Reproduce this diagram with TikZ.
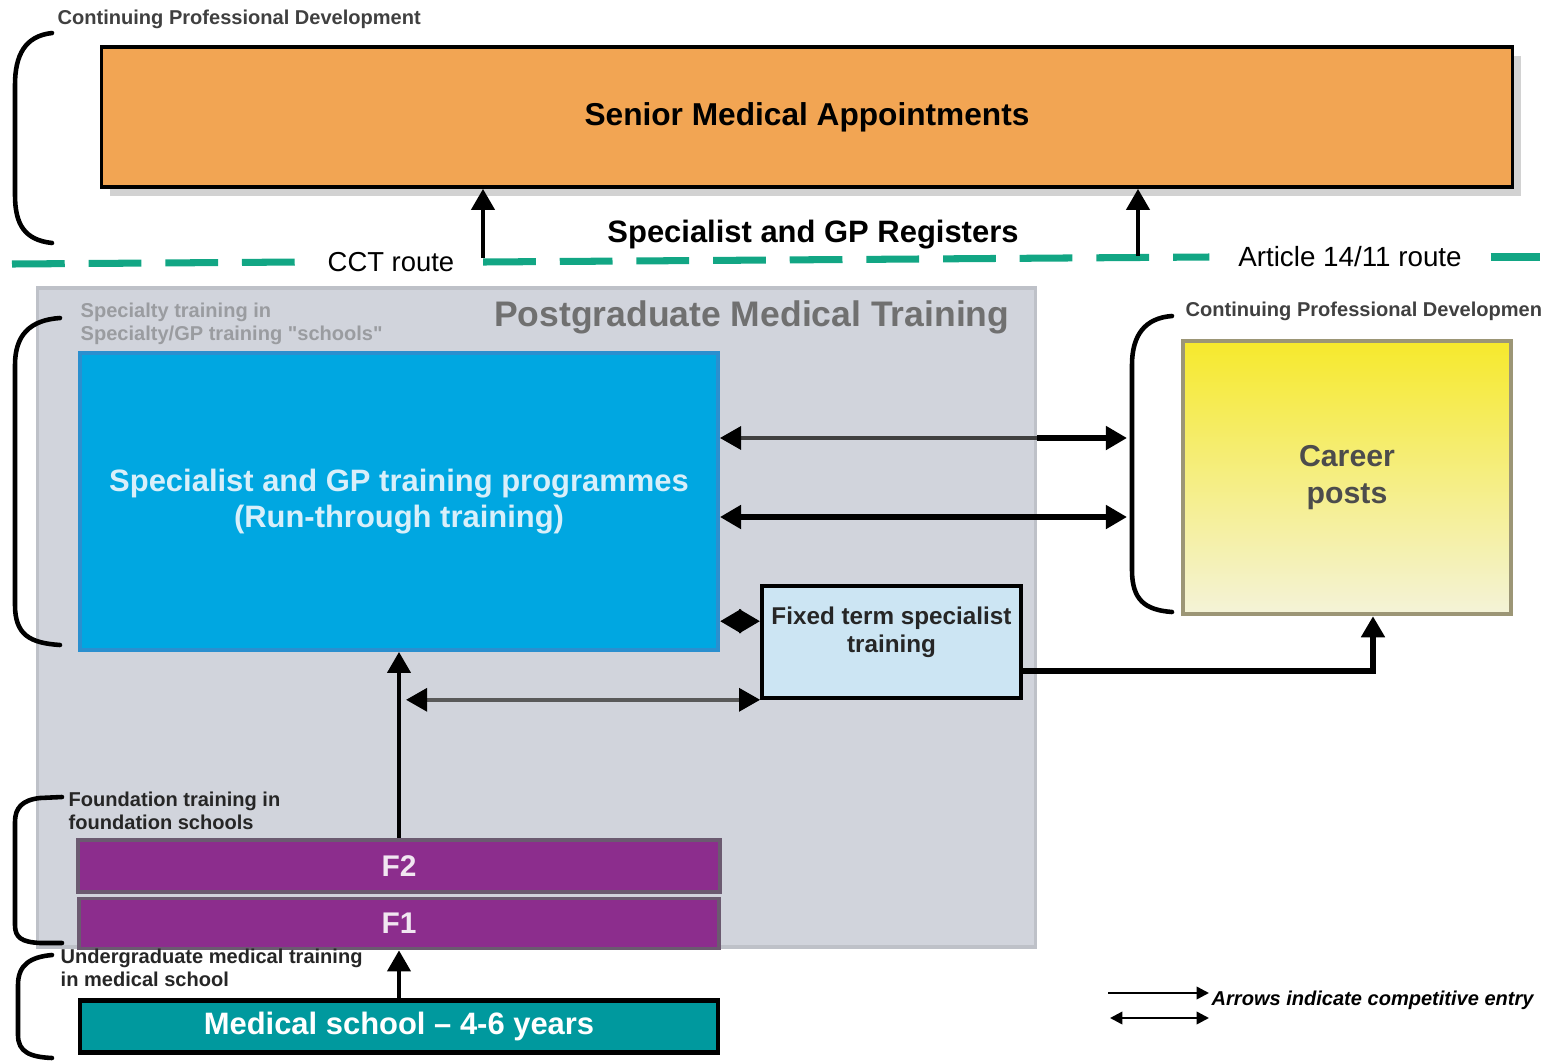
\documentclass[tikz,border=0pt]{standalone}
\usepackage{fontspec}
\setmainfont{Liberation Sans}
\usetikzlibrary{arrows.meta,positioning,calc,shadows}
\definecolor{smaorange}{HTML}{F2A553}
\definecolor{routegreen}{HTML}{12A684}
\definecolor{pmtgray}{HTML}{D1D4DC}
\definecolor{pmtedge}{HTML}{BEC1C8}
\definecolor{runblue}{HTML}{00A7E1}
\definecolor{runedge}{HTML}{2A8FCF}
\definecolor{runtext}{HTML}{D8EFFA}
\definecolor{fixblue}{HTML}{CCE5F3}
\definecolor{cpyellow}{HTML}{F6E92C}
\definecolor{cppale}{HTML}{F4F3D8}
\definecolor{cpedge}{HTML}{9C9676}
\definecolor{fpurple}{HTML}{8C2D8D}
\definecolor{fedge}{HTML}{6B5A70}
\definecolor{msteal}{HTML}{00999E}
\definecolor{lblgray}{HTML}{9A9CA0}
\definecolor{titlegray}{HTML}{707070}
\tikzset{
  >={Triangle[length=6pt,width=6.5pt,color=black]},
  box/.style={draw, rectangle, inner sep=0pt, align=center},
  arr/.style={->, line width=1.3pt},
  darr/.style={<->, line width=1.6pt},
  bracket/.style={line width=1.3pt, line cap=round},
  lbl/.style={inner sep=0pt, align=left, font=\fontsize{5.7}{6.6}\selectfont\bfseries},
  route/.style={routegreen, line width=2pt, dash pattern=on 15pt off 6.8pt},
}
\begin{document}
\begin{tikzpicture}[x=0.01cm, y=-0.01cm]
\useasboundingbox (0,0) rectangle (1547,1063);
\node[box, fill=smaorange, line width=1pt, minimum width=14.1cm, minimum height=1.4cm,
  drop shadow={shadow xshift=2.5pt, shadow yshift=-2.5pt, fill=black!35, opacity=.5},
  font=\fontsize{9}{11}\selectfont\bfseries] (sma) at (807,117) {Senior Medical Appointments};
\node[lbl, anchor=west, text=black!75] (cpd1) at (57,19) {Continuing Professional Development};
\draw[bracket] (52,33) .. controls (25,36) and (15,55) .. (15,85) -- (15,195) .. controls (15,225) and (25,240) .. (52,243);
\node[font=\fontsize{8.8}{10}\selectfont\bfseries] (reg) at (813,235) {Specialist and GP Registers};
\coordinate (r0) at (12,264);
\coordinate (r1) at (1540,257);
\node[inner xsep=8pt, font=\fontsize{7.8}{10}\selectfont] (cctl) at (391,262) {CCT route};
\node[inner xsep=8pt, font=\fontsize{7.9}{10}\selectfont] (artl) at (1350,257) {Article 14/11 route};
\draw[route] (r0) -- (cctl.west);
\draw[route] (cctl.east) -- (artl.west);
\draw[route] (artl.east) -- (r1);
\coordinate (cct) at (483,258);
\coordinate (art) at (1138,256);
\draw[arr] (cct) -- (cct |- sma.south);
\draw[arr] (art) -- (art |- sma.south);
\node[fill=pmtgray, draw=pmtedge, line width=1pt, minimum width=9.97cm, minimum height=6.59cm, inner sep=0pt] (pmt) at (536.5,617.5) {};
\node[anchor=north east, inner sep=0pt, text=titlegray, font=\fontsize{10.1}{12}\selectfont\bfseries] (pmtt) at (1010,300) {Postgraduate Medical Training};
\node[lbl, anchor=north west, text=lblgray] (spt) at (80,302) {Specialty training in\\Specialty/GP training \textquotedbl schools\textquotedbl};
\draw[bracket] (60,318) .. controls (30,320) and (15,335) .. (15,365) -- (15,605) .. controls (15,635) and (30,643) .. (60,645);
\node[box, fill=runblue, draw=runedge, line width=1pt, minimum width=6.38cm, minimum height=2.97cm, text=runtext,
  font=\fontsize{8.8}{10.4}\selectfont\bfseries] (sgp) at (399,501.5) {Specialist and GP training programmes\\(Run-through training)};
\node[box, top color=cpyellow, bottom color=cppale, draw=cpedge, line width=1.2pt, minimum width=3.28cm, minimum height=2.73cm,
  text=black!70, font=\fontsize{8.6}{10.5}\selectfont\bfseries] (cp) at (1347,477.5) {Career\\posts};
\node[lbl, anchor=west, text=black!75] (cpd2) at (1185,311) {Continuing Professional Developmen};
\draw[bracket] (1172,316) .. controls (1145,318) and (1132,335) .. (1132,365) -- (1132,570) .. controls (1132,600) and (1145,610) .. (1172,612);
\node[box, fill=fixblue, line width=1pt, minimum width=2.59cm, minimum height=1.12cm,
  label={[anchor=north, yshift=-3pt, align=center, text=black!85, font=\fontsize{6.9}{8}\selectfont\bfseries]north:Fixed term specialist\\training}] (fts) at (891.5,642) {};
\coordinate (b1) at (1127,438);
\coordinate (b2) at (1127,517);
\draw[<-, line width=1.1pt, black!75] (b1 -| sgp.east) -- (b1 -| pmt.east);
\draw[->, line width=1.6pt] (b1 -| pmt.east) -- (b1);
\draw[darr] (b2 -| sgp.east) -- (b2);
\coordinate (d1) at ($(fts.north west)!.32!(fts.south west)$);
\draw[darr] (d1 -| sgp.east) -- (d1);
\coordinate (e1) at ($(fts.north east)!.75!(fts.south east)$);
\draw[arr, line width=1.6pt] (e1) -| ($(cp.south)+(26,0)$);
\node[lbl, anchor=north west, text=black!85] (ftl) at (68,791) {Foundation training in\\foundation schools};
\draw[bracket] (62,797) -- (40,798) .. controls (22,800) and (15,808) .. (15,822) -- (15,925) .. controls (15,938) and (22,942) .. (40,943) -- (62,943);
\node[box, fill=fpurple, draw=fedge, line width=1pt, minimum width=6.42cm, minimum height=0.52cm,
  text=white!88!fpurple, font=\fontsize{8.5}{10}\selectfont\bfseries] (f2) at (399,866) {F2};
\node[box, fill=fpurple, draw=fedge, line width=1pt, minimum width=6.40cm, minimum height=0.50cm,
  text=white!88!fpurple, font=\fontsize{8.5}{10}\selectfont\bfseries, below=0.03cm of f2] (f1) {F1};
\node[box, fill=msteal, line width=1.2pt, minimum width=6.38cm, minimum height=0.52cm,
  text=white, font=\fontsize{8.8}{11}\selectfont\bfseries, below=0.48cm of f1] (ms) {Medical school -- 4-6 years};
\draw[arr] (f2.north) -- (sgp.south);
\draw[arr] (ms.north) -- (f1.south);
\draw[<->, line width=1.1pt, black!65, shorten <=2pt] (fts.south west -| f2.north) -- (fts.south west);
\node[lbl, anchor=north west, text=black!85] (ugl) at (60,948) {Undergraduate medical training\\in medical school};
\draw[bracket] (52,955) .. controls (30,957) and (18,965) .. (18,985) -- (18,1035) .. controls (18,1052) and (30,1057) .. (52,1058);
\node[anchor=west, inner sep=0pt, font=\fontsize{5.7}{7}\selectfont\bfseries\itshape] (leg) at (1211,1000) {Arrows indicate competitive entry};
\coordinate (l1) at (1108,993);
\coordinate (l2) at (1209,993);
\coordinate (l3) at (1110,1018);
\coordinate (l4) at (1209,1018);
\draw[->, line width=0.7pt, >={Triangle[length=3.5pt,width=3.5pt]}] (l1) -- (l2);
\draw[<->, line width=0.7pt, >={Triangle[length=3.5pt,width=3.5pt]}] (l3) -- (l4);
\end{tikzpicture}
\end{document}
